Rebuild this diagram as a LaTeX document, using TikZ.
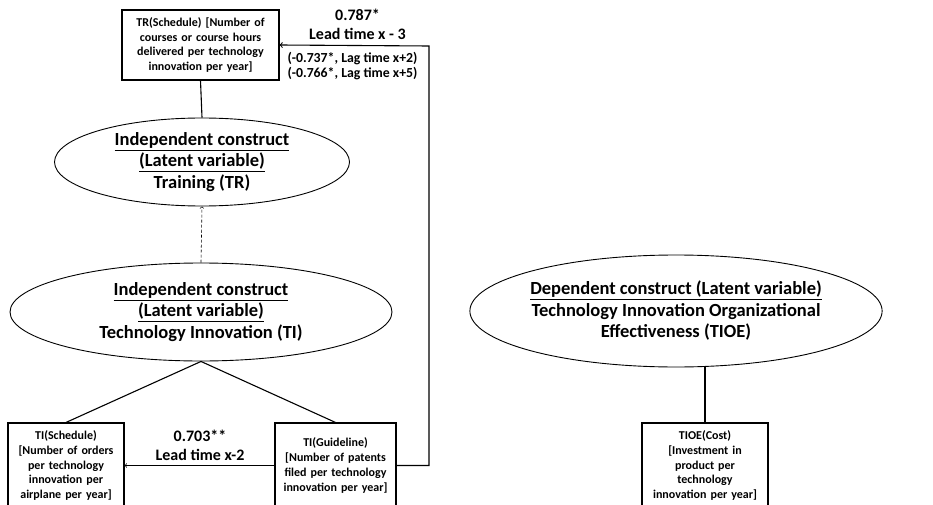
\documentclass[tikz,border=0pt]{standalone}
\usepackage{fontspec}
\setmainfont{Carlito}
\usepackage{tikz}
\usetikzlibrary{shapes.geometric}

\begin{document}
\begin{tikzpicture}[x=1pt,y=-1pt,line width=1.1pt,
		latent/.style={ellipse,draw,line width=0.9pt,inner sep=0pt,align=center,font=\fontsize{18.5}{21.5}\selectfont\bfseries},
		indicator/.style={rectangle,draw,inner xsep=1pt,inner ysep=0pt,align=center,font=\fontsize{12}{14.8}\selectfont\bfseries},
		coef/.style={align=center,inner sep=0pt,font=\fontsize{16}{19}\selectfont\bfseries},
		lagtxt/.style={align=center,inner sep=0pt,font=\fontsize{13.8}{14.5}\selectfont\bfseries}]
				\useasboundingbox (0,0) rectangle (933,505);
				
				% indicators
				\node[indicator,text width=155pt,minimum height=70pt] (trs) at (200.5,45) {TR(Schedule) [Number of\\courses or course hours\\delivered per technology\\innovation per year]};
				\node[indicator,text width=114pt,minimum height=85pt] (tis) at (66,465.5) {TI(Schedule)\\{}[Number of orders\\per technology\\innovation per\\airplane per year]};
				\node[indicator,text width=119pt,minimum height=85pt] (tig) at (335.5,465.5) {TI(Guideline)\\{}[Number of patents\\filed per technology\\innovation per year]};
				\node[indicator,text width=124pt,minimum height=85pt] (tioec) at (705,465.5) {TIOE(Cost)\\{}[Investment in\\product per\\technology\\innovation per year]};
				
				% constructs
				\node[latent,minimum width=295pt,minimum height=88pt] (tr) at (202,162) {\underline{Independent construct}\\\underline{(Latent variable)}\\Training (TR)};
				\node[latent,minimum width=382pt,minimum height=98pt] (ti) at (201,312) {\underline{Independent construct}\\\underline{(Latent variable)}\\Technology Innovation (TI)};
				\node[latent,minimum width=409pt,minimum height=112pt] (tioe) at (676,311) {\underline{Dependent construct (Latent variable)}\\Technology Innovation Organizational\\Effectiveness (TIOE)};
				
				\draw (trs.south) -- (tr.north);
				\draw[->,dash pattern=on 3pt off 2pt,line width=0.6pt] (ti.north) -- (tr.south);
				\draw (ti.south) -- (tis.north);
				\draw (ti.south) -- (tig.north);
				\draw (tioec.north) -- (tioec.north |- tioe.south);
				
				\draw[->,line width=0.7pt] (tig.west) -- (tis.east);
				\coordinate (bend) at (429,46);
				\draw[->] (tig.east) -| (bend) -- (trs.east);
				
				\node[coef] (c1) at (200,445) {0.703**\\Lead time x-2};
				\node[coef] (c2) at (357.5,24) {0.787*\\Lead time x - 3};
				\node[lagtxt] (c3) at (352.5,66) {(-0.737*, Lag time x+2)\\(-0.766*, Lag time x+5)};
\end{tikzpicture}
\end{document}
